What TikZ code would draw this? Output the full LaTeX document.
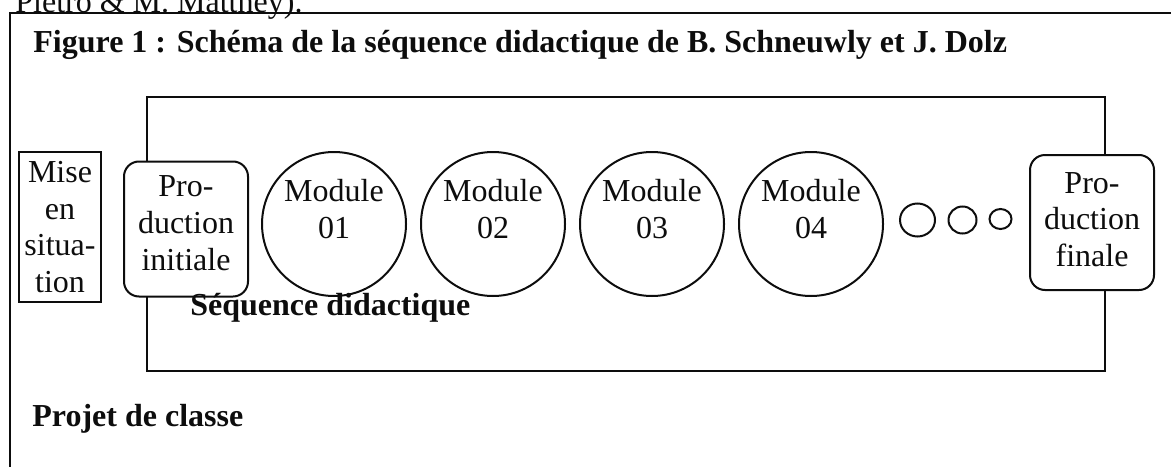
\documentclass[tikz,border=0pt]{standalone}
\usepackage{fontspec}
\setmainfont{Liberation Serif}
\usepackage{tikz}
\usetikzlibrary{shapes.geometric, positioning}
\definecolor{lineBlack}{gray}{0.05}

\begin{document}
\begin{tikzpicture}[x=0.5pt, y=-0.5pt,
    every node/.style={font=\fontsize{16}{18.4}\selectfont, text=lineBlack},
    plainBox/.style={draw=lineBlack, line width=1pt, align=center, inner sep=0pt},
    prodBox/.style={plainBox, fill=white, rounded corners=7.5pt, minimum width=62pt, minimum height=67.5pt},
    modCircle/.style={circle, draw=lineBlack, line width=1pt, align=center, minimum size=72pt, inner sep=0pt, text depth=15pt},
    dotEll/.style={ellipse, draw=lineBlack, line width=1pt, inner sep=0pt},
    headText/.style={anchor=base west, inner sep=0pt, font=\fontsize{16}{18.4}\selectfont\bfseries}]
  \useasboundingbox (0,0) rectangle (1171,466);
  \clip (0,0) rectangle (1171,466);
  \node[anchor=base west, inner sep=0pt] (prevLine) at (15,12) {Pietro \& M. Matthey).};
  \draw[lineBlack, line width=1pt] (10,490) -- (10,13) -- (1190,13);
  \draw[lineBlack, line width=1pt] (147,97) rectangle (1105,371);
  \node[headText] (figTitle) at (33,52) {Figure 1 : Schéma de la séquence didactique de B. Schneuwly et J. Dolz};
  \node[plainBox, minimum width=41pt, minimum height=75pt] (mise) at (60,227) {Mise\\en\\situa-\\tion};
  \node[prodBox, text depth=6pt] (prodInit) at (186,229) {Pro-\\duction\\initiale};
  \foreach \i/\x in {1/334, 2/493, 3/652, 4/811} {
    \node[modCircle] (mod\i) at (\x,224) {Module\\0\i};
  }
  \node[dotEll, minimum width=17.5pt, minimum height=16.5pt] (dotA) at (917.5,220) {};
  \node[dotEll, minimum width=14pt, minimum height=13.5pt] (dotB) at (962.5,220) {};
  \node[dotEll, minimum width=11pt, minimum height=10pt] (dotC) at (1000.5,219) {};
  \node[prodBox, text depth=3pt] (prodFin) at (1092,222.5) {Pro-\\duction\\finale};
  \node[headText] (seqLabel) at (190,315) {Séquence didactique};
  \node[headText] (projLabel) at (32,426) {Projet de classe};
\end{tikzpicture}
\end{document}
